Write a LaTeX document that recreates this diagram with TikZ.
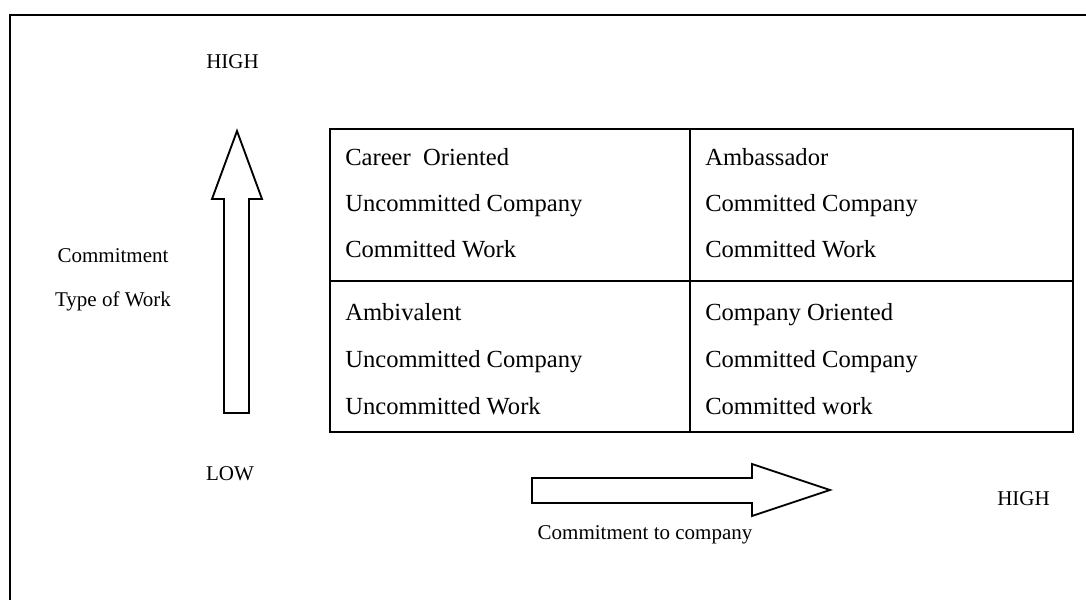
\documentclass[tikz,border=0pt]{standalone}
\usepackage{fontspec}
\setmainfont{Liberation Serif}
\begin{document}
\begin{tikzpicture}[x=0.75pt,y=-0.75pt,
  frame/.style={line width=1.7pt},
  grid/.style={line width=1.9pt},
  blockarrow/.style={draw,line width=1.4pt,line join=miter},
  cell/.style={anchor=base west,inner sep=0pt,font=\fontsize{18.45pt}{22pt}\selectfont},
  axislabel/.style={anchor=base,inner sep=0pt,font=\fontsize{15.75pt}{19pt}\selectfont}]
\useasboundingbox (0,0) rectangle (1086,600);
\begin{scope}
  \clip (0,0) rectangle (1086,600);
  % outer frame, running past the page on the right and at the bottom
  \draw[frame] (10,15) rectangle (1100,615);
\end{scope}

% quadrant table
\draw[grid] (330,129) rectangle (1073,432);
\draw[grid] (690,129) -- (690,432);
\draw[grid] (330,281) -- (1073,281);

% vertical block arrow
\draw[blockarrow] (237,131) -- (262,199) -- (249,199) -- (249,413) -- (224,413)
  -- (224,199) -- (212,199) -- cycle;
% horizontal block arrow
\draw[blockarrow] (532,478) -- (752,478) -- (752,464) -- (830,490) -- (752,516)
  -- (752,503) -- (532,503) -- cycle;

% axis labels
\node[axislabel] (hightop) at (232.5,68) {HIGH};
\node[axislabel] (low) at (230,480) {LOW};
\node[axislabel] (highright) at (1023.5,505) {HIGH};
\node[axislabel] (ylab1) at (113,262) {Commitment};
\node[axislabel] (ylab2) at (113,306) {Type of Work};
\node[axislabel] (xlab) at (645,539) {Commitment to company};

% cell texts, top left
\node[cell] (c11) at (345,165) {Career\ \ Oriented};
\node[cell] (c12) at (345,211) {Uncommitted Company};
\node[cell] (c13) at (345,257) {Committed Work};
% top right
\node[cell] (c21) at (705,165) {Ambassador};
\node[cell] (c22) at (705,211) {Committed Company};
\node[cell] (c23) at (705,257) {Committed Work};
% bottom left
\node[cell] (c31) at (345,320) {Ambivalent};
\node[cell] (c32) at (345,367) {Uncommitted Company};
\node[cell] (c33) at (345,414) {Uncommitted Work};
% bottom right
\node[cell] (c41) at (705,320) {Company Oriented};
\node[cell] (c42) at (705,367) {Committed Company};
\node[cell] (c43) at (705,414) {Committed work};
\end{tikzpicture}
\end{document}
